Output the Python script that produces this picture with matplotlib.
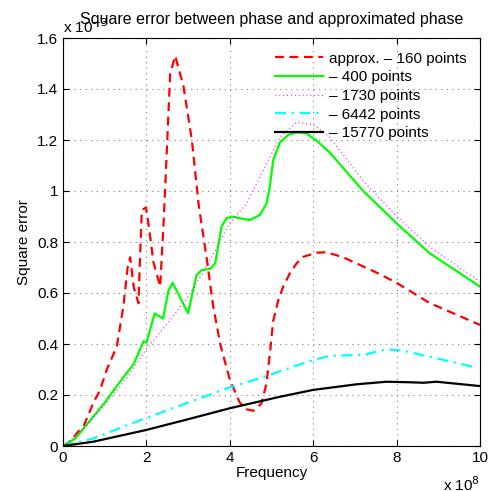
import matplotlib
matplotlib.use('Agg')
import matplotlib.pyplot as plt

plt.rcParams['font.family'] = ['Liberation Sans', 'DejaVu Sans']

# frequency in units of 1e8, error in units of 1e-? (exponent hidden under the title)
f_160 = [0, 0.2, 0.33, 0.5, 0.73, 0.89, 1.05, 1.29, 1.45, 1.55, 1.61, 1.7, 1.81, 1.85, 1.89, 1.99,
         2.05, 2.17, 2.33, 2.42, 2.49, 2.57, 2.69, 2.89, 3.09, 3.25, 3.45, 3.6, 3.77, 4.0, 4.24,
         4.4, 4.56, 4.76, 4.88, 4.96, 5.04, 5.16, 5.28, 5.44, 5.6, 5.76, 6.08, 6.32, 6.72, 7.52, 8.0,
         8.8, 10]
e_160 = [0, 0.02, 0.05, 0.08, 0.17, 0.22, 0.3, 0.39, 0.55, 0.7, 0.74, 0.62, 0.56, 0.75, 0.925, 0.935,
         0.87, 0.72, 0.625, 0.9, 1.16, 1.46, 1.53, 1.41, 1.2, 0.95, 0.73, 0.55, 0.40, 0.26, 0.17,
         0.144, 0.138, 0.167, 0.246, 0.36, 0.49, 0.57, 0.625, 0.677, 0.716, 0.742, 0.758, 0.76, 0.74,
         0.68, 0.64, 0.56, 0.475]

f_400 = [0, 0.3, 0.65, 1.0, 1.45, 1.69, 1.93, 2.0, 2.2, 2.4, 2.53, 2.63, 3.0, 3.2, 3.33, 3.53, 3.65,
         3.8, 3.92, 4.05, 4.24, 4.48, 4.72, 4.88, 4.96, 5.04, 5.2, 5.4, 5.6, 5.84, 6.1, 6.4, 7.2, 8.0,
         8.8, 10]
e_400 = [0, 0.03, 0.1, 0.17, 0.27, 0.32, 0.41, 0.405, 0.52, 0.50, 0.61, 0.64, 0.52, 0.67, 0.69, 0.695,
         0.716, 0.86, 0.893, 0.9, 0.893, 0.886, 0.906, 0.95, 1.017, 1.12, 1.19, 1.22, 1.23, 1.226, 1.195,
         1.15, 1.0, 0.873, 0.755, 0.625]

f_1730 = [0, 0.5, 1.0, 1.5, 2.0, 2.5, 3.0, 3.5, 4.0, 4.4, 4.8, 5.2, 5.6, 6.0, 6.4, 7.2, 8.0, 8.8, 10]
e_1730 = [0, 0.07, 0.16, 0.26, 0.38, 0.48, 0.585, 0.72, 0.875, 0.95, 1.08, 1.21, 1.27, 1.26, 1.21,
          1.04, 0.9, 0.78, 0.645]

f_6442 = [0, 0.73, 2.0, 3.0, 4.0, 4.8, 5.5, 6.0, 6.4, 7.2, 7.76, 8.16, 8.8, 9.84]
e_6442 = [0, 0.03, 0.11, 0.17, 0.23, 0.27, 0.31, 0.337, 0.354, 0.357, 0.379, 0.374, 0.35, 0.31]

f_15770 = [0, 0.73, 2.0, 3.0, 4.0, 5.2, 6.0, 7.04, 7.76, 8.3, 8.64, 8.96, 10]
e_15770 = [0, 0.017, 0.063, 0.105, 0.148, 0.193, 0.22, 0.242, 0.252, 0.25, 0.248, 0.252, 0.235]

labels = ['approx. \u2013 160 points', '\u2013 400 points', '\u2013 1730 points',
          '\u2013 6442 points', '\u2013 15770 points']

fig = plt.figure(figsize=(4.91, 4.91), dpi=100)
ax = fig.add_axes([63 / 491, 45 / 491, 417 / 491, 408 / 491])

lw = 1.6
ax.plot(f_160, e_160, color='red', linestyle=(0, (4, 2.5)), lw=lw, label=labels[0])
ax.plot(f_400, e_400, color='#00ff00', linestyle='-', lw=lw, label=labels[1])
ax.plot(f_1730, e_1730, color='magenta', linestyle=(0, (0.6, 2.2)), lw=1.0, label=labels[2])
ax.plot(f_6442, e_6442, color='cyan', linestyle=(0, (5, 2.5, 1, 2.5)), lw=lw, label=labels[3])
ax.plot(f_15770, e_15770, color='black', linestyle='-', lw=lw, label=labels[4])

ax.set_xlim(0, 10)
ax.set_ylim(0, 1.6)
ax.set_xticks([0, 2, 4, 6, 8, 10])
ax.set_yticks([0, 0.2, 0.4, 0.6, 0.8, 1.0, 1.2, 1.4, 1.6])
ax.set_yticklabels(['0', '0.2', '0.4', '0.6', '0.8', '1', '1.2', '1.4', '1.6'])
ax.tick_params(direction='in', length=4, labelsize=11, top=True, right=True)
ax.grid(True, linestyle=(0, (1, 4)), color='#808080', lw=0.8)

ax.set_xlabel('Frequency', fontsize=11, labelpad=1)
ax.set_ylabel('Square error', fontsize=11, labelpad=4)

ax.text(0.0, 1.005, 'x 10$^{-3}$', transform=ax.transAxes, fontsize=11, ha='left', va='bottom')
ax.text(1.0, -0.072, 'x 10$^{8}$', transform=ax.transAxes, fontsize=11, ha='right', va='top')
ax.set_title('Square error between phase and approximated phase', fontsize=11.5, pad=10)

ax.legend(loc='upper right', frameon=False, fontsize=11, handlelength=3.1,
          handletextpad=0.4, labelspacing=0.3, borderaxespad=0.5)

fig.savefig('out.png', dpi=100)
